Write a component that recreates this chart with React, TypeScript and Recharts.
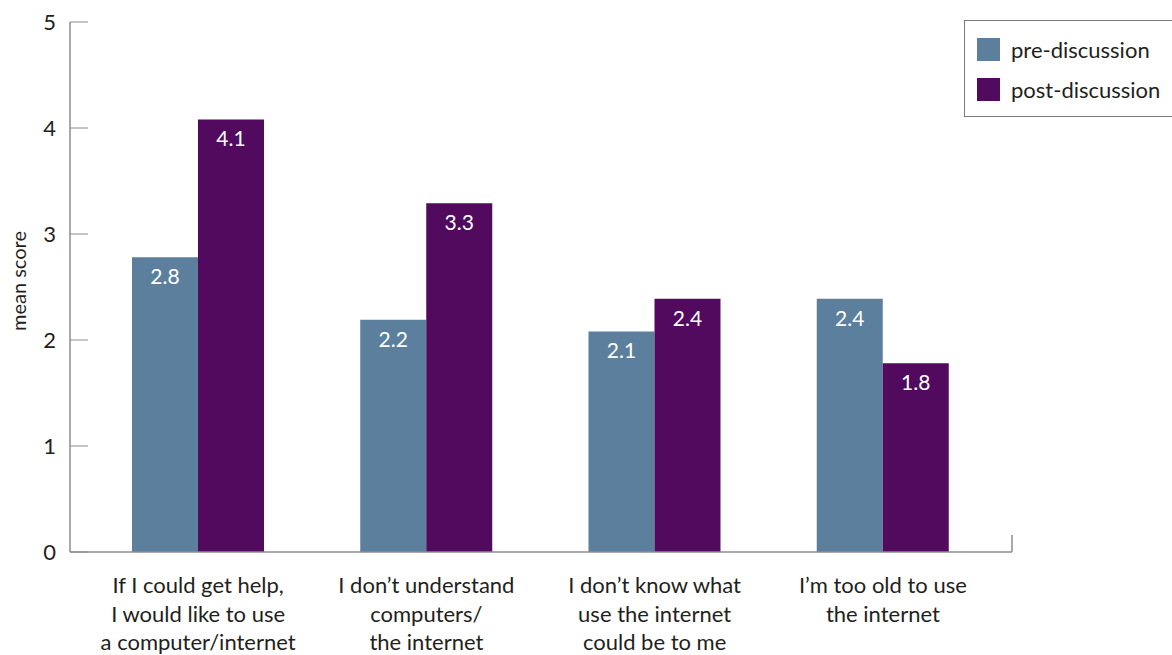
import * as R from 'recharts'
import { BarChart, Bar, XAxis, YAxis, LabelList } from 'recharts'

const categoryLines = [
  ['If I could get help,', 'I would like to use', 'a computer/internet'],
  ['I don\u2019t understand', 'computers/', 'the internet'],
  ['I don\u2019t know what', 'use the internet', 'could be to me'],
  ['I\u2019m too old to use', 'the internet'],
]
const preDiscussion = [2.78, 2.19, 2.08, 2.39]
const postDiscussion = [4.08, 3.29, 2.39, 1.78]
const yTicks = [0, 1, 2, 3, 4, 5]
const legendItems = ['pre-discussion', 'post-discussion']

const data = categoryLines.map((lines, i) => ({
  category: lines.join(' '),
  pre: preDiscussion[i],
  post: postDiscussion[i],
}))

const FONT = 'Lato, "Gill Sans", sans-serif'
const TEXT = '#231f20'
const AXIS = '#8c8c8c'
const PRE = '#5b7f9d'
const POST = '#510a5d'

function YTick(props: any) {
  const { x, y, payload } = props
  return (
    <g>
      <line x1={x} y1={y} x2={x + 18} y2={y} stroke={AXIS} strokeWidth={1} />
      <text x={x - 14} y={y} dy="0.36em" textAnchor="end" fontSize={22} fill={TEXT} fontFamily={FONT}>
        {payload.value}
      </text>
    </g>
  )
}

// little upright tick closing the x axis on the right
function AxisEndTick() {
  const usePlotArea = (R as any).usePlotArea
  const area = usePlotArea ? usePlotArea() : null
  if (!area) return null
  const x = area.x + area.width
  const y = area.y + area.height
  return <line x1={x} y1={y} x2={x} y2={y - 17} stroke={AXIS} strokeWidth={1.5} />
}

function XTick(props: any) {
  const { x, y, index } = props
  const lines = categoryLines[index] || []
  return (
    <text x={x} y={y} textAnchor="middle" fontSize={22} fill={TEXT} fontFamily={FONT}>
      {lines.map((l, i) => (
        <tspan key={i} x={x} y={y + 41 + i * 28.5}>
          {l}
        </tspan>
      ))}
    </text>
  )
}

function LegendBox() {
  const colors = [PRE, POST]
  return (
    <div
      style={{
        position: 'absolute',
        left: 964,
        top: 20,
        width: 212,
        height: 97,
        border: '1px solid #7a7a7a',
        boxSizing: 'border-box',
        paddingTop: 17,
        paddingLeft: 12,
        fontFamily: FONT,
        fontSize: 22,
        color: TEXT,
      }}
    >
      {legendItems.map((label, i) => (
        <div key={label} style={{ display: 'flex', alignItems: 'center', height: 23, marginBottom: 17 }}>
          <span style={{ width: 23, height: 23, background: colors[i], display: 'inline-block', marginRight: 11 }} />
          <span>{label}</span>
        </div>
      ))}
    </div>
  )
}

function YLabel(props: any) {
  const { viewBox } = props
  const cx = viewBox.x + 18
  const cy = viewBox.y + viewBox.height / 2 - 6
  return (
    <text
      x={cx}
      y={cy}
      transform={`rotate(-90 ${cx} ${cy})`}
      textAnchor="middle"
      dominantBaseline="central"
      fontSize={20}
      fill={TEXT}
      fontFamily={FONT}
    >
      mean score
    </text>
  )
}

export default function App() {
  return (
    <div style={{ position: 'absolute', left: 0, top: 0, width: 1172, height: 655, overflow: 'hidden', background: '#fff' }}>
      <BarChart
        width={1172}
        height={655}
        data={data}
        margin={{ top: 22, right: 160, bottom: 0, left: 0 }}
        barGap={0}
      >
        <XAxis
          dataKey="category"
          interval={0}
          height={103}
          padding={{ left: 14, right: 15 }}
          axisLine={{ stroke: AXIS, strokeWidth: 1.5 }}
          tickLine={false}
          tickSize={0}
          tickMargin={0}
          tick={<XTick />}
        />
        <YAxis
          width={70}
          domain={[0, 5]}
          ticks={yTicks}
          interval={0}
          axisLine={{ stroke: AXIS, strokeWidth: 1.5 }}
          tickLine={false}
          tickSize={0}
          tickMargin={0}
          tick={<YTick />}
          label={<YLabel />}
        />
        <Bar dataKey="pre" name="pre-discussion" fill={PRE} barSize={66} isAnimationActive={false}>
          <LabelList
            dataKey="pre"
            position="insideTop"
            offset={12}
            fill="#fff"
            fontSize={21}
            fontFamily={FONT}
            formatter={(v: any) => Number(v).toFixed(1)}
          />
        </Bar>
        <Bar dataKey="post" name="post-discussion" fill={POST} barSize={66} isAnimationActive={false}>
          <LabelList
            dataKey="post"
            position="insideTop"
            offset={12}
            fill="#fff"
            fontSize={21}
            fontFamily={FONT}
            formatter={(v: any) => Number(v).toFixed(1)}
          />
        </Bar>
        <AxisEndTick />
      </BarChart>
      <LegendBox />
    </div>
  )
}
